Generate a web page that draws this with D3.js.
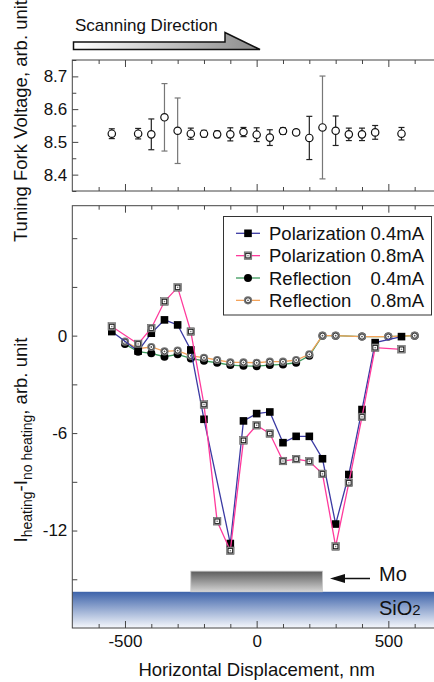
<!DOCTYPE html>
<html>
<head>
<meta charset="utf-8">
<script src="https://cdn.jsdelivr.net/npm/d3@7"></script>
<style>
  body { margin: 0; background: #fff; }
  svg text { font-family: "Liberation Sans", Arial, sans-serif; fill: #111; }
</style>
</head>
<body>
<svg id="canvas" width="434" height="682"></svg>
<script>
// tuning fork voltage (top panel)
let forkX = [-550, -450, -400, -350, -300, -250, -200, -150, -100, -50, 0, 50, 100, 150, 200, 250, 300, 350, 400, 450, 550]
let forkV = [8.525, 8.525, 8.523, 8.575, 8.534, 8.525, 8.525, 8.523, 8.523, 8.53, 8.522, 8.513, 8.533, 8.529, 8.512, 8.544, 8.534, 8.523, 8.523, 8.529, 8.525]
let forkErr = [0.015, 0.016, 0.047, 0.103, 0.10, 0.017, 0.01, 0.01, 0.02, 0.014, 0.021, 0.024, 0.01, 0.008, 0.066, 0.157, 0.045, 0.019, 0.019, 0.021, 0.019]

// signal difference (lower panel)
let polX = [-550, -450, -400, -350, -300, -250, -200, -100, -50, 0, 50, 100, 150, 200, 250, 300, 350, 400, 450, 550]
let pol04 = [0.25, -0.95, 0.15, 0.97, 0.66, -0.88, -5.15, -12.8, -5.25, -4.8, -4.7, -6.59, -6.2, -6.2, -7.58, -11.6, -8.55, -4.55, -0.43, -0.06]
let pol08X = [-550, -450, -400, -350, -300, -250, -200, -150, -100, -50, 0, 50, 100, 150, 200, 250, 300, 350, 400, 450, 550]
let pol08 = [0.56, -0.51, 0.46, 2.1, 2.97, 0.25, -4.24, -11.43, -13.24, -6.45, -5.52, -6.03, -7.72, -7.6, -7.74, -8.51, -12.98, -9.06, -5.0, -0.74, -0.84]
let reflX = [-500, -450, -400, -350, -300, -250, -200, -150, -100, -50, 0, 50, 100, 150, 200, 250, 300, 400, 500, 600]
let refl04 = [-0.52, -0.99, -1.09, -1.3, -1.15, -1.4, -1.55, -1.67, -1.81, -1.86, -1.88, -1.81, -1.77, -1.67, -1.24, 0, 0, -0.06, -0.06, 0]
let refl08 = [-0.37, -0.8, -0.7, -0.97, -0.92, -1.24, -1.36, -1.5, -1.65, -1.65, -1.67, -1.6, -1.6, -1.5, -1.15, 0, 0, -0.06, -0.06, 0]

let seriesNames = ['Polarization', 'Polarization', 'Reflection', 'Reflection']
let seriesCurrents = ['0.4mA', '0.8mA', '0.4mA', '0.8mA']

let xTicks = [-500, 0, 500]
let forkTicks = [8.4, 8.5, 8.6, 8.7]
let diffTicks = [-12, -6, 0]
let moSpan = [-250, 250]

let canvas = d3.select('#canvas')

let x = d3.scaleLinear().domain([-700, 700]).range([72.3, 441])
let yTop = d3.scaleLinear().domain([8.35, 8.75]).range([191, 60])
let yBot = d3.scaleLinear().domain([-18, 8]).range([628, 205.7])

let plainNum = d => String(d)  // keep ascii hyphen like the original

let defs = canvas.append('defs')
let g1 = defs.append('linearGradient').attr('id', 'sio2').attr('x1', 0).attr('y1', 0).attr('x2', 0).attr('y2', 1)
g1.append('stop').attr('offset', '0%').attr('stop-color', '#3d63aa')
g1.append('stop').attr('offset', '100%').attr('stop-color', '#f6f8fc')
let g2 = defs.append('linearGradient').attr('id', 'mo').attr('x1', 0).attr('y1', 0).attr('x2', 0).attr('y2', 1)
g2.append('stop').attr('offset', '0%').attr('stop-color', '#5c5c5c')
g2.append('stop').attr('offset', '100%').attr('stop-color', '#d4d4d4')
let g3 = defs.append('linearGradient').attr('id', 'scan').attr('x1', 0).attr('y1', 0).attr('x2', 1).attr('y2', 0)
g3.append('stop').attr('offset', '0%').attr('stop-color', '#ffffff')
g3.append('stop').attr('offset', '100%').attr('stop-color', '#8a8a8a')

// scanning direction arrow
canvas.append('path')
    .attr('d', 'M73.5,42 L225,42 L225,32.5 L260,49.5 L73.5,49.5 Z')
    .attr('fill', 'url(#scan)')
    .attr('stroke', '#111')
    .attr('stroke-width', 1.5)
canvas.append('text').attr('x', 75).attr('y', 31).attr('font-size', '17px').text('Scanning Direction')

// substrate and Mo strip
canvas.append('rect')
    .attr('x', x(-700)).attr('y', yBot(-15.77))
    .attr('width', x(700) - x(-700)).attr('height', yBot(-18) - yBot(-15.77))
    .attr('fill', 'url(#sio2)')
canvas.append('rect')
    .attr('x', x(moSpan[0])).attr('y', yBot(-14.5))
    .attr('width', x(moSpan[1]) - x(moSpan[0])).attr('height', yBot(-15.77) - yBot(-14.5))
    .attr('fill', 'url(#mo)')
    .attr('stroke', '#c8c8c8').attr('stroke-width', 0.8)
canvas.append('line').attr('x1', 334).attr('x2', 370).attr('y1', 578.5).attr('y2', 578.5)
    .attr('stroke', '#111').attr('stroke-width', 1.5)
canvas.append('path').attr('d', 'M330,578.5 L345,574 L345,583 Z').attr('fill', '#111')
canvas.append('text').attr('x', 379).attr('y', 581).attr('font-size', '20px').text('Mo')
let sio = canvas.append('text').attr('x', 379).attr('y', 615).attr('font-size', '20px')
sio.append('tspan').text('SiO')
sio.append('tspan').attr('font-size', '15px').text('2')

// frames and ticks
let tickStyle = (g) => {
    g.select('.domain').remove()
    g.selectAll('line').attr('stroke', '#444')
    g.selectAll('text').attr('font-size', '17px').attr('fill', '#111')
}

let xMinor = d3.range(-600, 701, 100).filter(d => xTicks.indexOf(d) < 0)

let drawFrame = (top, bottom, labels) => {
    canvas.append('g').attr('transform', `translate(0,${top})`)
        .call(d3.axisTop(x).tickValues(xMinor).tickSize(-4).tickFormat('')).call(tickStyle)
    canvas.append('g').attr('transform', `translate(0,${top})`)
        .call(d3.axisTop(x).tickValues(xTicks).tickSize(-7).tickFormat('')).call(tickStyle)
    canvas.append('g').attr('transform', `translate(0,${bottom})`)
        .call(d3.axisBottom(x).tickValues(xMinor).tickSize(-4).tickFormat('')).call(tickStyle)
    canvas.append('g').attr('transform', `translate(0,${bottom})`)
        .call(d3.axisBottom(x).tickValues(xTicks).tickSize(-7).tickPadding(7)
            .tickFormat(labels ? plainNum : '')).call(tickStyle)
    canvas.append('rect')
        .attr('x', x(-700)).attr('y', top)
        .attr('width', x(700) - x(-700)).attr('height', bottom - top)
        .attr('fill', 'none').attr('stroke', '#444').attr('stroke-width', 1)
}

drawFrame(60, 191, false)
drawFrame(205.7, 628, true)

// top panel y ticks
let forkMinor = [8.35, 8.45, 8.55, 8.65, 8.75]
canvas.append('g').attr('transform', `translate(${x(-700)},0)`)
    .call(d3.axisLeft(yTop).tickValues(forkMinor).tickSize(-4).tickFormat('')).call(tickStyle)
canvas.append('g').attr('transform', `translate(${x(-700)},0)`)
    .call(d3.axisLeft(yTop).tickValues(forkTicks).tickSize(-6).tickPadding(5).tickFormat(d3.format('.1f'))).call(tickStyle)
canvas.append('g').attr('transform', `translate(${x(700)},0)`)
    .call(d3.axisRight(yTop).tickValues(forkTicks).tickSize(-6).tickFormat('')).call(tickStyle)

// lower panel y ticks
canvas.append('g').attr('transform', `translate(${x(-700)},0)`)
    .call(d3.axisLeft(yBot).tickValues(d3.range(-15, 7, 3)).tickSize(-5).tickFormat('')).call(tickStyle)
canvas.append('g').attr('transform', `translate(${x(-700)},0)`)
    .call(d3.axisLeft(yBot).tickValues(diffTicks).tickSize(0).tickPadding(5).tickFormat(plainNum)).call(tickStyle)
canvas.append('g').attr('transform', `translate(${x(700)},0)`)
    .call(d3.axisRight(yBot).tickValues(d3.range(-15, 7, 3)).tickSize(-5).tickFormat('')).call(tickStyle)

// axis titles
canvas.append('text')
    .attr('transform', 'translate(27,121) rotate(-90)')
    .attr('text-anchor', 'middle').attr('font-size', '18.5px')
    .text('Tuning Fork Voltage, arb. unit')
let yl = canvas.append('text')
    .attr('transform', 'translate(27,440) rotate(-90)')
    .attr('text-anchor', 'middle').attr('font-size', '18.5px')
yl.append('tspan').text('I')
yl.append('tspan').attr('font-size', '14px').attr('dy', 5).text('heating')
yl.append('tspan').attr('dy', -5).text('-I')
yl.append('tspan').attr('font-size', '14px').attr('dy', 5).text('no heating')
yl.append('tspan').attr('dy', -5).text(', arb. unit')
canvas.append('text').attr('x', x(0)).attr('y', 676)
    .attr('text-anchor', 'middle').attr('font-size', '18.5px')
    .text('Horizontal Displacement, nm')

// top panel: error bars + open circles
let fork = forkX.map((d, i) => ({ x: d, v: forkV[i], e: forkErr[i] }))
let eb = canvas.append('g').selectAll('g').data(fork).enter().append('g')
    .attr('stroke', d => d.e > 0.08 ? '#777' : '#222').attr('stroke-width', 1.2)
eb.append('line').attr('x1', d => x(d.x)).attr('x2', d => x(d.x))
    .attr('y1', d => yTop(d.v + d.e)).attr('y2', d => yTop(d.v - d.e))
eb.append('line').attr('x1', d => x(d.x) - 3).attr('x2', d => x(d.x) + 3)
    .attr('y1', d => yTop(d.v + d.e)).attr('y2', d => yTop(d.v + d.e))
eb.append('line').attr('x1', d => x(d.x) - 3).attr('x2', d => x(d.x) + 3)
    .attr('y1', d => yTop(d.v - d.e)).attr('y2', d => yTop(d.v - d.e))
canvas.append('g').selectAll('circle').data(fork).enter().append('circle')
    .attr('cx', d => x(d.x)).attr('cy', d => yTop(d.v)).attr('r', 3.7)
    .attr('fill', '#fff').attr('stroke', '#111').attr('stroke-width', 1.2)

// marker painters
let markers = {
    filledSquare: (g) => g.append('rect').attr('x', -3.8).attr('y', -3.8).attr('width', 7.6).attr('height', 7.6).attr('fill', '#000'),
    openSquare: (g) => {
        g.append('rect').attr('x', -3.8).attr('y', -3.8).attr('width', 7.6).attr('height', 7.6).attr('fill', '#8a8a8a').attr('stroke', '#555').attr('stroke-width', 0.5)
        g.append('rect').attr('x', -2.2).attr('y', -2.2).attr('width', 4.4).attr('height', 4.4).attr('fill', '#fff').attr('stroke', '#111').attr('stroke-width', 0.8)
        g.append('rect').attr('x', -0.7).attr('y', -0.7).attr('width', 1.4).attr('height', 1.4).attr('fill', '#777')
    },
    filledCircle: (g) => g.append('circle').attr('r', 4).attr('fill', '#000'),
    ringCircle: (g) => {
        g.append('circle').attr('r', 4.1).attr('fill', '#777')
        g.append('circle').attr('r', 2.5).attr('fill', '#fff').attr('stroke', '#222').attr('stroke-width', 0.8)
        g.append('circle').attr('r', 0.9).attr('fill', '#555')
    }
}

let series = [
    { xs: reflX, vs: refl04, color: '#3c9a5c', marker: 'filledCircle' },
    { xs: reflX, vs: refl08, color: '#f4a35a', marker: 'ringCircle' },
    { xs: polX, vs: pol04, color: '#3b3aa3', marker: 'filledSquare' },
    { xs: pol08X, vs: pol08, color: '#ff3a9c', marker: 'openSquare' }
]

let line = d3.line().x(d => x(d[0])).y(d => yBot(d[1]))

series.forEach(s => {
    let pts = s.xs.map((d, i) => [d, s.vs[i]])
    canvas.append('path').datum(pts).attr('d', line)
        .attr('fill', 'none').attr('stroke', s.color).attr('stroke-width', 1.3)
    canvas.append('g').selectAll('g').data(pts).enter().append('g')
        .attr('transform', d => `translate(${x(d[0])},${yBot(d[1])})`)
        .each(function () { markers[s.marker](d3.select(this)) })
})

// legend
let legendOrder = [2, 3, 0, 1]
let legend = canvas.append('g')
legend.append('rect').attr('x', 223.5).attr('y', 216.5).attr('width', 208).attr('height', 98.5)
    .attr('fill', '#fff').attr('stroke', '#333').attr('stroke-width', 1)
legendOrder.forEach((si, row) => {
    let s = series[si]
    let cy = 233.3 + row * 22.35
    legend.append('line').attr('x1', 236).attr('x2', 260).attr('y1', cy).attr('y2', cy)
        .attr('stroke', s.color).attr('stroke-width', 1.3)
    let m = legend.append('g').attr('transform', `translate(248,${cy})`)
    markers[s.marker](m)
    legend.append('text').attr('x', 269).attr('y', cy + 6.5).attr('font-size', '18.5px').text(seriesNames[row])
    legend.append('text').attr('x', 424).attr('y', cy + 6.5).attr('text-anchor', 'end').attr('font-size', '18.5px').text(seriesCurrents[row])
})
</script>
</body>
</html>
